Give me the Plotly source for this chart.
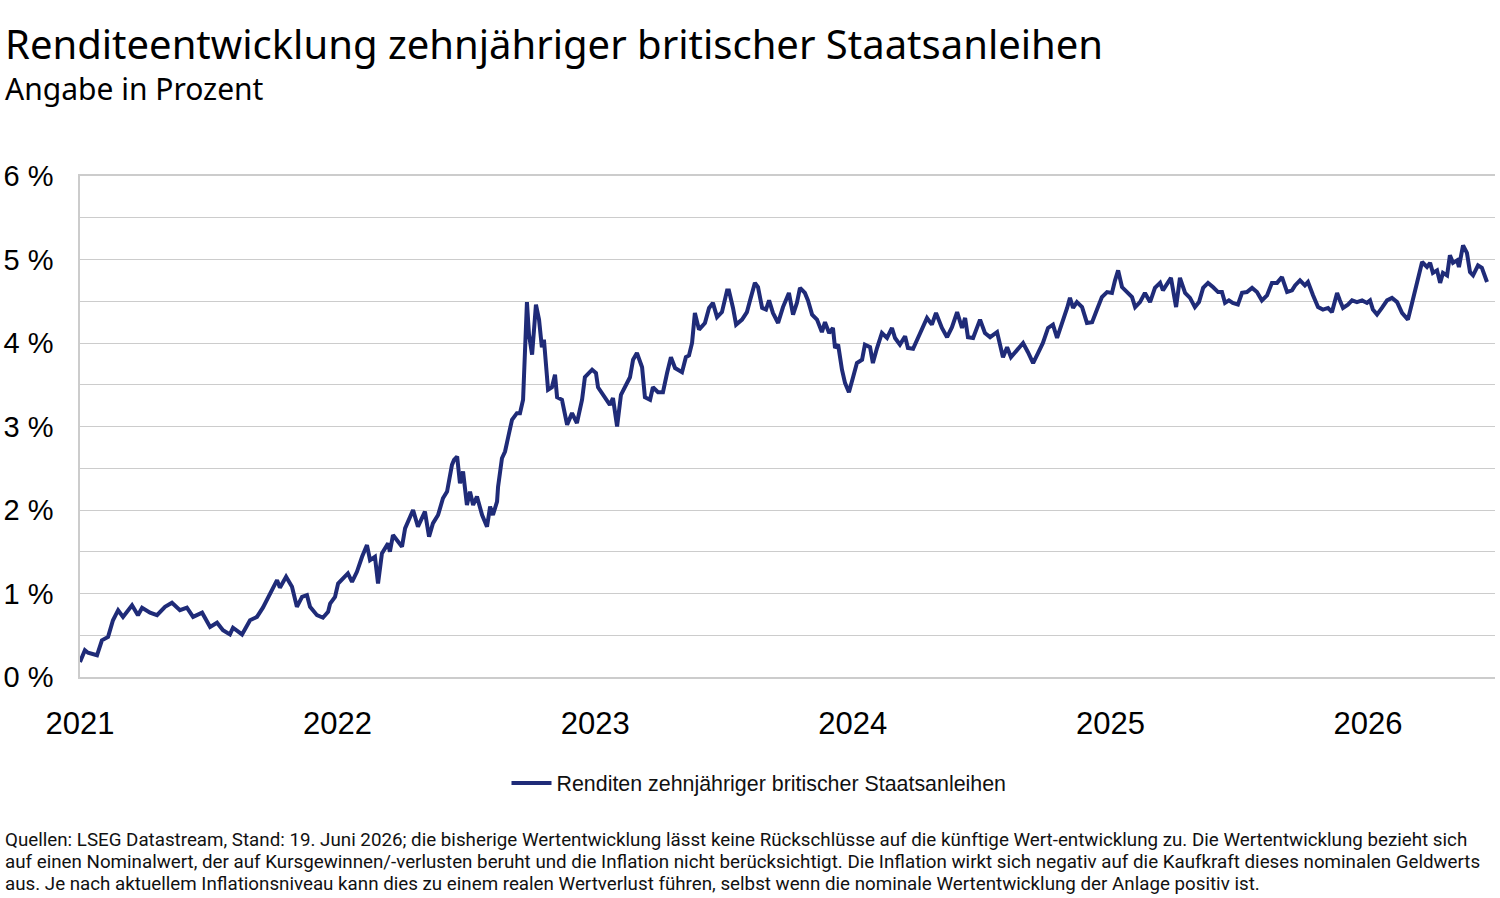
import plotly.graph_objects as go

# Time in decimal years, yields in percent
years = [
    2021.000, 2021.019, 2021.031, 2021.066, 2021.085, 2021.109, 2021.128, 2021.148, 2021.167, 2021.202,
    2021.225, 2021.241, 2021.272, 2021.299, 2021.330, 2021.357, 2021.388, 2021.415, 2021.439, 2021.474,
    2021.505, 2021.532, 2021.555, 2021.582, 2021.594, 2021.629, 2021.660, 2021.687, 2021.710, 2021.738,
    2021.765, 2021.776, 2021.800, 2021.823, 2021.842, 2021.862, 2021.881, 2021.893, 2021.920, 2021.943,
    2021.963, 2021.971, 2021.990, 2022.002, 2022.021, 2022.040, 2022.056, 2022.075, 2022.095, 2022.114,
    2022.126, 2022.145, 2022.157, 2022.172, 2022.196, 2022.203, 2022.215, 2022.250, 2022.262, 2022.273,
    2022.293, 2022.312, 2022.339, 2022.355, 2022.370, 2022.390, 2022.409, 2022.425, 2022.444, 2022.452,
    2022.464, 2022.475, 2022.487, 2022.502, 2022.514, 2022.526, 2022.541, 2022.561, 2022.580, 2022.592,
    2022.603, 2022.619, 2022.623, 2022.638, 2022.650, 2022.662, 2022.677, 2022.696, 2022.708, 2022.720,
    2022.727, 2022.735, 2022.743, 2022.755, 2022.770, 2022.782, 2022.793, 2022.801, 2022.817, 2022.832,
    2022.844, 2022.852, 2022.871, 2022.891, 2022.910, 2022.929, 2022.949, 2022.960, 2022.988, 2023.003,
    2023.011, 2023.030, 2023.057, 2023.069, 2023.085, 2023.100, 2023.116, 2023.135, 2023.147, 2023.162,
    2023.182, 2023.193, 2023.213, 2023.224, 2023.244, 2023.263, 2023.279, 2023.294, 2023.310, 2023.337,
    2023.352, 2023.364, 2023.376, 2023.387, 2023.403, 2023.426, 2023.442, 2023.457, 2023.473, 2023.492,
    2023.512, 2023.519, 2023.535, 2023.547, 2023.570, 2023.589, 2023.601, 2023.620, 2023.632, 2023.648,
    2023.663, 2023.675, 2023.690, 2023.710, 2023.729, 2023.752, 2023.768, 2023.783, 2023.795, 2023.814,
    2023.826, 2023.842, 2023.861, 2023.880, 2023.892, 2023.908, 2023.923, 2023.931, 2023.943, 2023.958,
    2023.970, 2023.985, 2024.001, 2024.016, 2024.036, 2024.047, 2024.067, 2024.078, 2024.094, 2024.113,
    2024.133, 2024.152, 2024.164, 2024.183, 2024.203, 2024.214, 2024.234, 2024.253, 2024.273, 2024.288,
    2024.307, 2024.323, 2024.346, 2024.366, 2024.385, 2024.405, 2024.424, 2024.436, 2024.447, 2024.467,
    2024.494, 2024.513, 2024.533, 2024.560, 2024.583, 2024.599, 2024.614, 2024.637, 2024.661, 2024.680,
    2024.700, 2024.719, 2024.738, 2024.758, 2024.777, 2024.793, 2024.812, 2024.832, 2024.843, 2024.855,
    2024.870, 2024.890, 2024.909, 2024.929, 2024.948, 2024.967, 2024.987, 2025.006, 2025.018, 2025.030,
    2025.045, 2025.064, 2025.084, 2025.096, 2025.115, 2025.134, 2025.154, 2025.173, 2025.193, 2025.204,
    2025.224, 2025.235, 2025.255, 2025.270, 2025.290, 2025.309, 2025.328, 2025.344, 2025.360, 2025.379,
    2025.398, 2025.418, 2025.433, 2025.445, 2025.460, 2025.475, 2025.495, 2025.511, 2025.530, 2025.550,
    2025.569, 2025.588, 2025.608, 2025.627, 2025.647, 2025.666, 2025.686, 2025.705, 2025.717, 2025.736,
    2025.755, 2025.767, 2025.787, 2025.806, 2025.825, 2025.845, 2025.860, 2025.880, 2025.891, 2025.903,
    2025.922, 2025.938, 2025.957, 2025.977, 2025.996, 2026.008, 2026.019, 2026.035, 2026.054, 2026.074,
    2026.093, 2026.113, 2026.132, 2026.155, 2026.171, 2026.182, 2026.194, 2026.210, 2026.229, 2026.241,
    2026.252, 2026.268, 2026.280, 2026.291, 2026.307, 2026.318, 2026.330, 2026.346, 2026.353, 2026.369,
    2026.384, 2026.396, 2026.408, 2026.427, 2026.442, 2026.462,
]

yields = [
    0.18, 0.32, 0.29, 0.26, 0.44, 0.48, 0.68, 0.80, 0.72, 0.86,
    0.74, 0.83, 0.77, 0.74, 0.84, 0.89, 0.80, 0.83, 0.72, 0.77,
    0.60, 0.65, 0.56, 0.51, 0.59, 0.51, 0.68, 0.72, 0.83, 1.00,
    1.16, 1.07, 1.20, 1.08, 0.84, 0.96, 0.98, 0.84, 0.74, 0.71,
    0.78, 0.88, 0.96, 1.12, 1.18, 1.24, 1.14, 1.26, 1.44, 1.58,
    1.40, 1.44, 1.12, 1.48, 1.60, 1.50, 1.70, 1.56, 1.78, 1.86,
    2.00, 1.80, 1.98, 1.68, 1.84, 1.94, 2.14, 2.22, 2.54, 2.60,
    2.64, 2.32, 2.46, 2.06, 2.22, 2.06, 2.16, 1.94, 1.80, 2.04,
    1.94, 2.10, 2.28, 2.62, 2.70, 2.87, 3.08, 3.16, 3.16, 3.32,
    3.95, 4.49, 4.10, 3.86, 4.46, 4.28, 3.95, 4.04, 3.44, 3.47,
    3.62, 3.35, 3.32, 3.02, 3.16, 3.04, 3.32, 3.59, 3.68, 3.64,
    3.47, 3.38, 3.26, 3.34, 3.00, 3.38, 3.47, 3.59, 3.80, 3.88,
    3.71, 3.35, 3.32, 3.47, 3.41, 3.41, 3.64, 3.83, 3.70, 3.65,
    3.83, 3.85, 4.00, 4.36, 4.16, 4.24, 4.42, 4.48, 4.31, 4.37,
    4.63, 4.63, 4.42, 4.22, 4.28, 4.37, 4.51, 4.72, 4.67, 4.42,
    4.40, 4.51, 4.36, 4.24, 4.43, 4.60, 4.34, 4.48, 4.66, 4.60,
    4.51, 4.34, 4.28, 4.13, 4.25, 4.12, 4.18, 3.94, 3.98, 3.68,
    3.52, 3.41, 3.59, 3.76, 3.80, 3.98, 3.95, 3.76, 3.94, 4.12,
    4.06, 4.18, 4.06, 3.98, 4.08, 3.94, 3.93, 4.06, 4.22, 4.30,
    4.22, 4.36, 4.18, 4.07, 4.19, 4.37, 4.18, 4.30, 4.07, 4.06,
    4.28, 4.12, 4.07, 4.13, 3.83, 3.95, 3.83, 3.92, 4.00, 3.89,
    3.76, 3.88, 4.00, 4.18, 4.22, 4.06, 4.22, 4.42, 4.54, 4.42,
    4.49, 4.43, 4.24, 4.25, 4.40, 4.55, 4.61, 4.60, 4.75, 4.87,
    4.67, 4.61, 4.55, 4.43, 4.49, 4.60, 4.49, 4.66, 4.72, 4.63,
    4.73, 4.78, 4.43, 4.78, 4.60, 4.54, 4.43, 4.49, 4.66, 4.72,
    4.67, 4.61, 4.61, 4.48, 4.51, 4.48, 4.46, 4.60, 4.61, 4.66,
    4.61, 4.51, 4.57, 4.72, 4.72, 4.79, 4.61, 4.63, 4.69, 4.75,
    4.69, 4.73, 4.57, 4.43, 4.40, 4.42, 4.37, 4.60, 4.51, 4.42,
    4.46, 4.51, 4.49, 4.51, 4.48, 4.51, 4.40, 4.34, 4.42, 4.51,
    4.54, 4.49, 4.36, 4.28, 4.48, 4.63, 4.75, 4.97, 4.91, 4.96,
    4.84, 4.87, 4.72, 4.84, 4.81, 5.05, 4.96, 4.99, 4.91, 5.17,
    5.08, 4.85, 4.81, 4.93, 4.90, 4.73,
]

year_ticks = [2021, 2022, 2023, 2024, 2025, 2026]
year_labels = ["2021", "2022", "2023", "2024", "2025", "2026"]
pct_ticks = [0, 1, 2, 3, 4, 5, 6]
pct_labels = ["0 %", "1 %", "2 %", "3 %", "4 %", "5 %", "6 %"]

series_name = "Renditen zehnjähriger britischer Staatsanleihen"
title = "Renditeentwicklung zehnjähriger britischer Staatsanleihen"
subtitle = "Angabe in Prozent"
footer_lines = [
    "Quellen: LSEG Datastream, Stand: 19. Juni 2026; die bisherige Wertentwicklung lässt keine Rückschlüsse auf die künftige Wert-entwicklung zu. Die Wertentwicklung bezieht sich",
    "auf einen Nominalwert, der auf Kursgewinnen/-verlusten beruht und die Inflation nicht berücksichtigt. Die Inflation wirkt sich negativ auf die Kaufkraft dieses nominalen Geldwerts",
    "aus. Je nach aktuellem Inflationsniveau kann dies zu einem realen Wertverlust führen, selbst wenn die nominale Wertentwicklung der Anlage positiv ist.",
]

LINE = "#1f2b78"
GRID = "#cccccc"
FONT = "Noto Sans, Liberation Sans, sans-serif"
TICKFONT = "Liberation Sans, Arial, sans-serif"

fig = go.Figure()
fig.add_trace(go.Scatter(
    x=years, y=yields, mode="lines", name=series_name,
    line=dict(color=LINE, width=4), showlegend=True,
))

W, H = 1500, 898
L, R, T, B = 80, 5, 176, 221
pw, ph = W - L - R, H - T - B

def px_x(x):
    return (x - L) / pw

def px_y(y):
    return (H - B - y) / ph

annotations = [
    dict(text=title, x=px_x(3), y=px_y(43), xref="paper", yref="paper",
         xanchor="left", yanchor="middle", showarrow=False,
         font=dict(family=FONT, size=40, color="#000000")),
    dict(text=subtitle, x=px_x(3), y=px_y(88), xref="paper", yref="paper",
         xanchor="left", yanchor="middle", showarrow=False,
         font=dict(family=FONT, size=30, color="#000000")),
]
for i, ln in enumerate(footer_lines):
    annotations.append(dict(
        text=ln, x=px_x(3), y=px_y(840 + 22 * i), xref="paper", yref="paper",
        xanchor="left", yanchor="middle", showarrow=False,
        font=dict(family="Roboto, sans-serif", size=18.75, color="#111111")))

fig.update_layout(
    width=W, height=H,
    margin=dict(l=L, r=R, t=T, b=B, pad=0, autoexpand=False),
    paper_bgcolor="white", plot_bgcolor="white",
    font=dict(family=FONT, color="#000000"),
    showlegend=True,
    legend=dict(orientation="h", xref="container", yref="container",
                x=0.506, xanchor="center", y=1 - 783 / H, yanchor="middle",
                font=dict(family=TICKFONT, size=21.4, color="#111111"),
                itemwidth=40),
    annotations=annotations,
)
fig.update_xaxes(
    range=[2021, 2021 + (W - L - R) / 257.6],
    tickvals=year_ticks, ticktext=year_labels,
    showgrid=False, zeroline=False, automargin=False,
    showline=True, linecolor=GRID, linewidth=2, mirror=True,
    ticks="", ticklabelstandoff=18,
    tickfont=dict(family=TICKFONT, size=31, color="#000000"),
)
fig.update_yaxes(
    range=[0, 6],
    tickvals=pct_ticks, ticktext=pct_labels,
    showgrid=True, gridcolor=GRID, gridwidth=1,
    minor=dict(dtick=0.5, showgrid=True, gridcolor=GRID, gridwidth=1),
    zeroline=False, automargin=False,
    showline=True, linecolor=GRID, linewidth=1.5,
    ticks="", ticklabelstandoff=19,
    tickfont=dict(family=TICKFONT, size=29, color="#000000"),
)

fig.write_html("out.html")
